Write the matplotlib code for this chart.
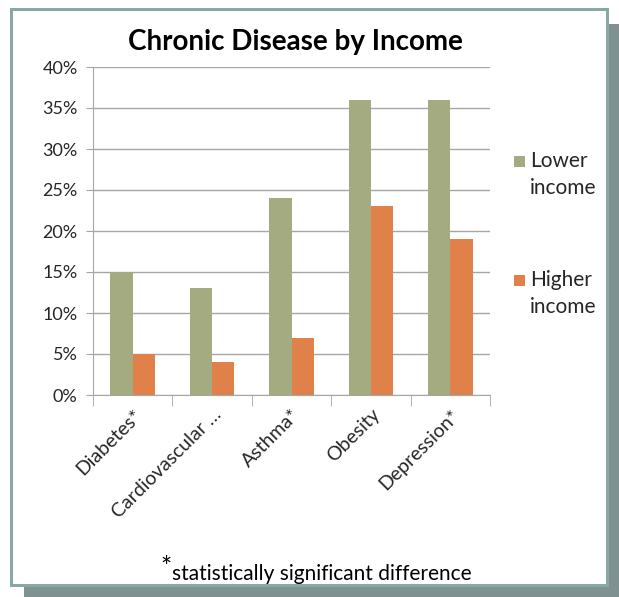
import matplotlib
matplotlib.use("Agg")
import matplotlib.pyplot as plt
from matplotlib.patches import Rectangle
import numpy as np

plt.rcParams['font.family'] = ['Lato', 'DejaVu Sans']

categories = ["Diabetes*", "Cardiovascular …", "Asthma*", "Obesity", "Depression*"]
lower_income = [15, 13, 24, 36, 36]
higher_income = [5, 4, 7, 23, 19]
series_names = ["Lower\nincome", "Higher\nincome"]
yticks = [0, 5, 10, 15, 20, 25, 30, 35, 40]

green = "#A4AB80"
orange = "#E0814A"
grid_col = "#A6A6A6"
frame_col = "#88A8A6"
shadow_col = "#7F9190"

W, H = 619, 597
fig = plt.figure(figsize=(W / 100, H / 100), dpi=100)
fig.patch.set_facecolor("white")

def px(x0, y0, x1, y1):
    # rectangle in pixel coords (top-left origin) -> figure fraction
    return (x0 / W, 1 - y1 / H), (x1 - x0) / W, (y1 - y0) / H

# drop shadow and framed panel
xy, w, h = px(24, 24, 619, 597)
fig.add_artist(Rectangle(xy, w, h, transform=fig.transFigure, facecolor=shadow_col,
                         edgecolor="none", zorder=0))
xy, w, h = px(10, 8, 609, 587)
fig.add_artist(Rectangle(xy, w, h, transform=fig.transFigure, facecolor=frame_col,
                         edgecolor="none", zorder=0))
xy, w, h = px(13, 11, 606, 584)
fig.add_artist(Rectangle(xy, w, h, transform=fig.transFigure, facecolor="white",
                         edgecolor="none", zorder=0))

ax = fig.add_axes([93 / W, 1 - 395 / H, (490 - 93) / W, (395 - 67) / H])
ax.set_facecolor("none")

x = np.arange(len(categories))
bw = 0.28
ax.bar(x - bw / 2, lower_income, bw, color=green, label=series_names[0], zorder=3)
ax.bar(x + bw / 2, higher_income, bw, color=orange, label=series_names[1], zorder=3)

ax.set_xlim(-0.5, len(categories) - 0.5)
ax.set_ylim(0, 40)
ax.set_yticks(yticks)
ax.set_yticklabels([f"{v}%" for v in yticks], fontsize=13, color="#262626")
ax.yaxis.grid(True, color=grid_col, linewidth=1.0, zorder=0)
ax.tick_params(axis="y", length=5, color=grid_col, pad=6)

ax.set_xticks(x)
ax.set_xticklabels(categories, rotation=45, ha="right", rotation_mode="anchor",
                   fontsize=14, color="#262626")
ax.set_xticks(np.arange(-0.5, len(categories), 1), minor=True)
ax.tick_params(axis="x", which="major", length=0, pad=8)
ax.tick_params(axis="x", which="minor", length=8, color=grid_col)

for s in ["top", "right"]:
    ax.spines[s].set_visible(False)
ax.spines["left"].set_color(grid_col)
ax.spines["bottom"].set_color(grid_col)

fig.text(295 / W, 1 - 42 / H, "Chronic Disease by Income", ha="center", va="center",
         fontsize=20, fontweight="bold", color="black")

# legend
for i, (name, col) in enumerate(zip(series_names, [green, orange])):
    yc = 161 + i * 119
    xy, w, h = px(514, yc - 5, 525, yc + 6)
    fig.add_artist(Rectangle(xy, w, h, transform=fig.transFigure, facecolor=col,
                             edgecolor="none"))
    fig.text(530 / W, 1 - (yc - 10) / H, name, ha="left", va="top", fontsize=15,
             color="#262626", linespacing=1.45)

# footnote
fig.text(166 / W, 1 - 568 / H, "*", ha="center", va="center", fontsize=19, color="black")
fig.text(172 / W, 1 - 574 / H, "statistically significant difference", ha="left",
         va="center", fontsize=15, color="black")

fig.savefig("out.png", dpi=100)
